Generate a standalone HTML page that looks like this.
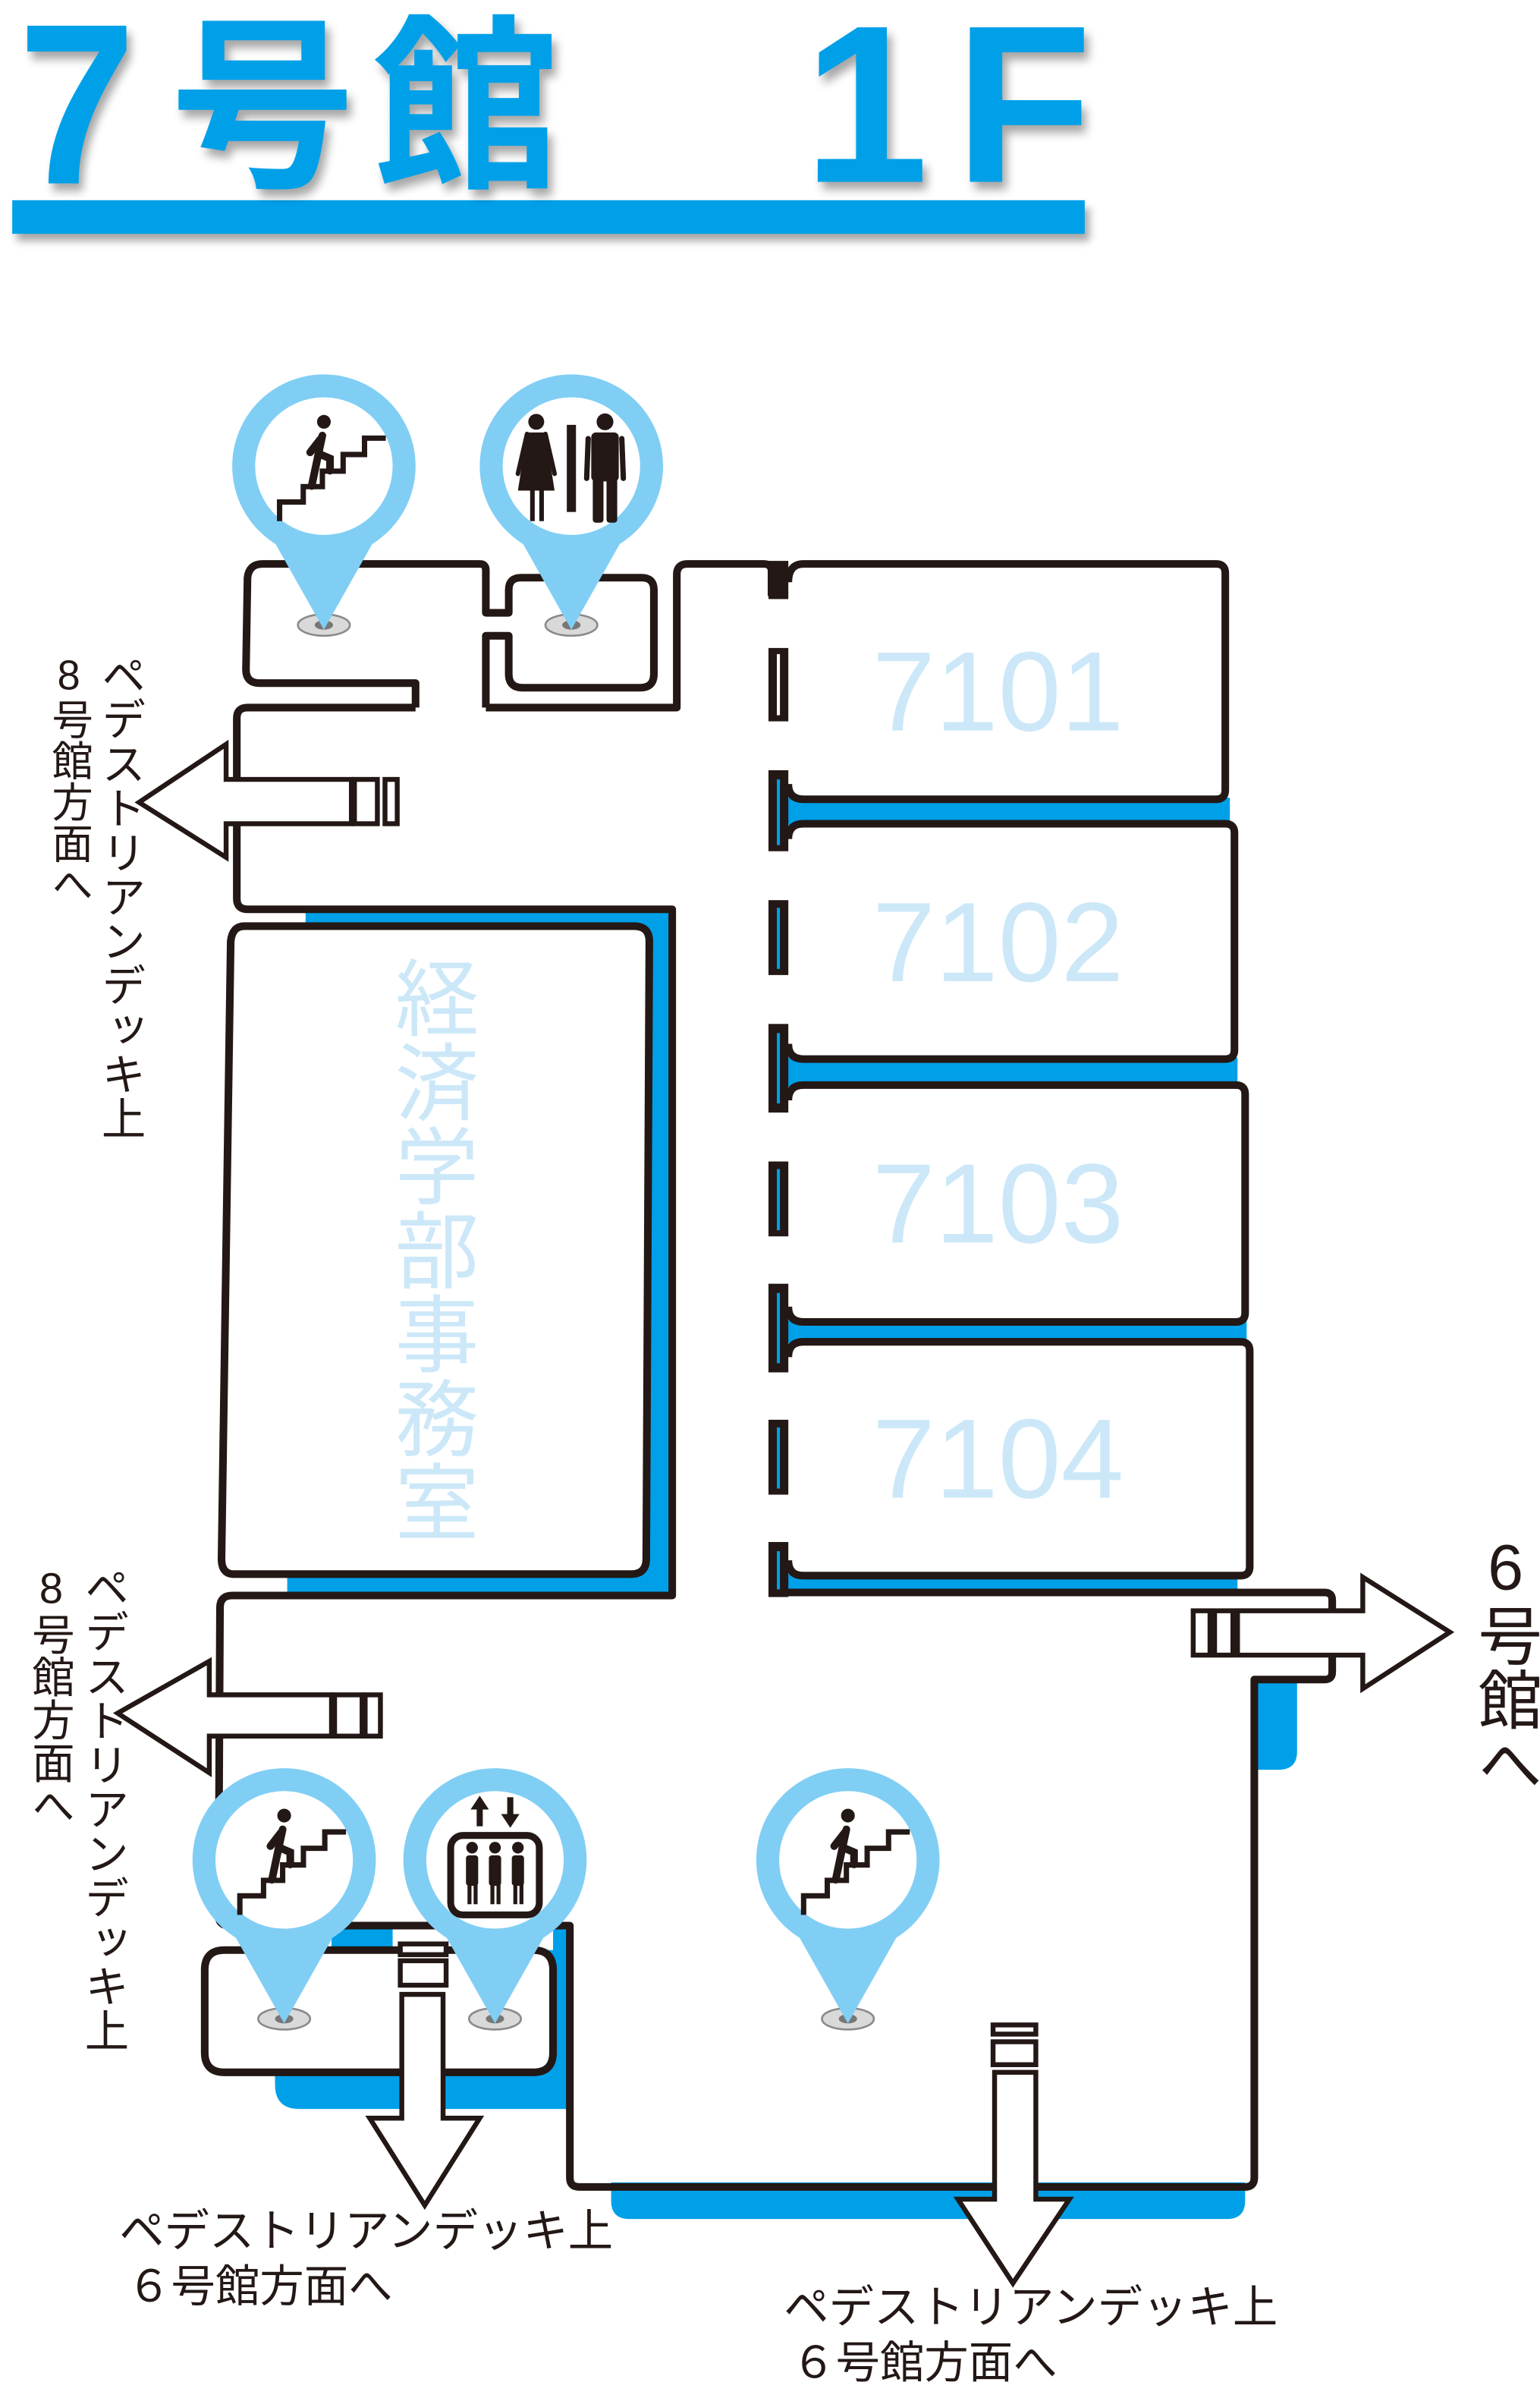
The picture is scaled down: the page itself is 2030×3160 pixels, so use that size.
<!DOCTYPE html>
<html><head><meta charset="utf-8">
<style>
html,body{margin:0;padding:0;background:#fff;}
body{width:2030px;height:3159px;overflow:hidden;position:relative;}
#c{position:absolute;left:0;top:0;width:1008px;height:1569px;transform:scale(2.01389);transform-origin:0 0;}
.t{position:absolute;font-family:"Liberation Sans","Noto Sans CJK JP",sans-serif;color:#231815;white-space:nowrap;line-height:1;}
.v{writing-mode:vertical-rl;text-orientation:upright;}
.title{position:absolute;font-family:"Liberation Sans","Noto Sans CJK JP",sans-serif;font-weight:bold;color:#00a0e9;line-height:1;white-space:nowrap;filter:drop-shadow(3px 5px 3px rgba(0,0,0,0.35));}
</style></head><body>
<div id="c">
<div style="position:absolute;left:8px;top:131px;width:702px;height:22px;background:#00a0e9;box-shadow:3px 5px 5px rgba(0,0,0,0.35);"></div>
<div class="title" style="left:12px;top:-7px;font-size:150px;transform:scaleX(0.92);transform-origin:0 0;">7</div>
<div class="title" style="left:111px;top:10px;font-size:122px;">号</div>
<div class="title" style="left:244px;top:10px;font-size:122px;">館</div>
<div class="title" style="left:526px;top:-4px;font-size:147px;">1</div>
<div class="title" style="left:625px;top:-4px;font-size:147px;">F</div>

<svg width="1008" height="1569" viewBox="0 0 1008 1569" style="position:absolute;left:0;top:0;">
<g fill="#00a0e9">
  <path d="M200,595 L440,595 L440,1046 L188,1046 L188,1030 L200,1030 Z"/>
  <rect x="510" y="522" width="295" height="18"/>
  <rect x="510" y="692" width="300" height="19"/>
  <rect x="510" y="864" width="306" height="15"/>
  <rect x="507" y="1030" width="303" height="14"/>
  <path d="M821,1099 L849,1099 L849,1146 Q849,1158 837,1158 L821,1158 Z"/>
  <path d="M400,1428 L815,1428 L815,1440 Q815,1452 803,1452 L412,1452 Q400,1452 400,1440 Z"/>
  <path d="M180,1276 L373,1276 L373,1380 L196,1380 Q180,1380 180,1364 Z"/>
  <rect x="217" y="1262" width="40" height="16"/>
  <rect x="362" y="1259" width="11" height="20"/>
</g>
<g fill="none" stroke="#231815" stroke-width="5" stroke-linejoin="round">
  <path fill="#fff" d="M272,463 L272,447 L170,447 Q161,447 161,438 L162,378 Q163,369 172,369 L314,369 Q318,369 318,373 L318,401 L333,401 L333,386 Q333,378 341,378 L420,378 Q428,378 428,386 L428,441 Q428,450 419,450 L342,450 Q333,450 333,441 L333,416 L318,416 L318,463"/>
  <path d="M318,463 L443,463 L443,376 Q443,369 450,369 L500,369 Q505,369 505,374 L505,390"/>
  <path d="M272,463 L162,463 Q155,463 155,470 L155,588 Q155,595 162,595 L440,595 L440,1044 L152,1044 Q144,1044 144,1052 L143,1253 Q143,1260 150,1260 L373,1260 L373,1425 Q373,1431 379,1431 L815,1431 Q821,1431 821,1425 L821,1099 L867,1099 Q872,1099 872,1094 L872,1047 Q872,1042 867,1042 L510,1042"/>
  <path fill="#fff" d="M160,606 L415,606 Q425,606 425,616 L423,1020 Q423,1030 413,1030 L153,1030 Q145,1030 145,1020 L151,616 Q152,606 160,606 Z"/>
  <path fill="#fff" d="M516,381 Q516,369 526,369 L796,369 Q802,369 802,375 L802,517 Q802,523 796,523 L526,523 Q516,523 516,513"/>
  <path fill="#fff" d="M516,549 Q516,539 526,539 L802,539 Q808,539 808,545 L808,687 Q808,693 802,693 L526,693 Q516,693 516,683"/>
  <path fill="#fff" d="M516,720 Q516,710 526,710 L809,710 Q815,710 815,716 L815,859 Q815,865 809,865 L526,865 Q516,865 516,855"/>
  <path fill="#fff" d="M516,888 Q516,878 526,878 L812,878 Q818,878 818,884 L818,1025 Q818,1031 812,1031 L526,1031 Q516,1031 516,1021"/>
  <path fill="#fff" d="M147,1276 L349,1276 Q362,1276 362,1289 L362,1343 Q362,1356 349,1356 L147,1356 Q134,1356 134,1343 L134,1289 Q134,1276 147,1276 Z"/>
</g>
<g fill="#231815">
  <rect x="503" y="367" width="13" height="25"/>
  <rect x="503" y="424" width="13" height="48"/>
  <rect x="503" y="504" width="13" height="53"/>
  <rect x="503" y="589" width="13" height="49"/>
  <rect x="503" y="670" width="13" height="58"/>
  <rect x="503" y="760" width="13" height="49"/>
  <rect x="503" y="840" width="13" height="58"/>
  <rect x="503" y="929" width="13" height="49"/>
  <rect x="503" y="1009" width="13" height="36"/>
</g>
<g>
  <rect x="508.5" y="428" width="2" height="40" fill="#fff"/>
  <rect x="508.5" y="510" width="2" height="43" fill="#00a0e9"/>
  <rect x="508.5" y="594" width="2" height="40" fill="#00a0e9"/>
  <rect x="508.5" y="676" width="2" height="46" fill="#00a0e9"/>
  <rect x="508.5" y="765" width="2" height="40" fill="#00a0e9"/>
  <rect x="508.5" y="846" width="2" height="46" fill="#00a0e9"/>
  <rect x="508.5" y="934" width="2" height="40" fill="#00a0e9"/>
  <rect x="508.5" y="1015" width="2" height="25" fill="#00a0e9"/>
</g>
<g fill="#cce8f8" font-family="Liberation Sans, sans-serif" font-size="74">
  <text x="571" y="478">7101</text>
  <text x="571" y="642">7102</text>
  <text x="571" y="813">7103</text>
  <text x="571" y="980">7104</text>
</g>
<g fill="#fff" stroke="#231815" stroke-width="3.2" stroke-linejoin="miter">
  <path d="M230,510 L148,510 L148,487 L91,525 L148,561 L148,539 L230,539 Z"/>
  <rect x="232" y="510" width="15" height="29"/><rect x="252" y="510" width="8" height="29"/>
  <path d="M217,1109 L137,1109 L137,1087 L77,1121 L137,1160 L137,1136 L217,1136 Z"/>
  <rect x="219" y="1109" width="18" height="27"/><rect x="239" y="1109" width="10" height="27"/>
  <path d="M810,1054 L892,1054 L892,1032 L949,1068 L892,1105 L892,1083 L810,1083 Z"/>
  <rect x="781" y="1054" width="11" height="29"/><rect x="795" y="1054" width="12" height="29"/>
  <path d="M263,1305 L290,1305 L290,1386 L314,1386 L278,1443 L242,1386 L263,1386 Z"/>
  <rect x="262" y="1272" width="30" height="7"/><rect x="262" y="1283" width="30" height="16"/>
  <path d="M651,1356 L678,1356 L678,1439 L700,1439 L663,1494 L627,1439 L651,1439 Z"/>
  <rect x="650" y="1325" width="28" height="6"/><rect x="650" y="1336" width="28" height="15"/>
</g>
<defs>
  <g id="pin">
    <ellipse cx="0" cy="104" rx="17" ry="7" fill="#d9d9d9" stroke="#8a8a8a" stroke-width="1.3"/>
    <ellipse cx="0" cy="104" rx="6" ry="3" fill="#777"/>
    <path d="M-35,45 L35,45 L0,107 Z" fill="#80cef4"/>
    <circle cx="0" cy="0" r="60" fill="#80cef4"/>
    <circle cx="0" cy="0" r="45" fill="#fff"/>
  </g>
  <g id="stairs">
    <path d="M-29,36 V23.5 H-13.5 V13.4 H-1 V3.3 H12.6 V-7.6 H26.6 V-18.3 H40.5" fill="none" stroke="#231815" stroke-width="3.5"/>
    <circle cx="0" cy="-29" r="4.5" fill="#231815"/>
    <g stroke="#231815" stroke-width="5" stroke-linecap="round" fill="none">
      <path d="M-1,-20 L-4,-6 L-8,13"/>
      <path d="M-3,-8 L4,-5 L4,3"/>
      <path d="M-2,-18 L-9,-9"/>
    </g>
  </g>
</defs>
<use href="#pin" x="212" y="305"/>
<use href="#pin" x="374" y="305"/>
<use href="#pin" x="186" y="1217"/>
<use href="#pin" x="324" y="1217"/>
<use href="#pin" x="555" y="1217"/>
<use href="#stairs" x="212" y="305"/>
<use href="#stairs" x="186" y="1217"/>
<use href="#stairs" x="555" y="1217"/>
<g transform="translate(374,305)" fill="#231815">
  <circle cx="-23" cy="-29" r="5.2"/>
  <path d="M-29,-22 L-17,-22 L-11,16 L-35,16 Z"/>
  <path d="M-29,-21 L-35,5 M-17,-21 L-11,5" stroke="#231815" stroke-width="3" stroke-linecap="round"/>
  <rect x="-27" y="15" width="3" height="21"/><rect x="-21" y="15" width="3" height="21"/>
  <rect x="-3" y="-27" width="6" height="57"/>
  <circle cx="22" cy="-29" r="5.5"/>
  <rect x="13" y="-22" width="18" height="32" rx="3"/>
  <path d="M11,-18 L10,8 M33,-18 L34,8" stroke="#231815" stroke-width="3.5" stroke-linecap="round"/>
  <rect x="14" y="8" width="7" height="29" rx="2"/><rect x="23" y="8" width="7" height="29" rx="2"/>
</g>
<g transform="translate(324,1217)" fill="#231815">
  <rect x="-12" y="-35" width="4" height="13"/><path d="M-16,-33 L-4,-33 L-10,-42 Z"/>
  <rect x="8" y="-41" width="4" height="13"/><path d="M4,-30 L16,-30 L10,-21 Z"/>
  <rect x="-29" y="-16" width="58" height="52" rx="8" fill="#fff" stroke="#231815" stroke-width="4.5"/>
  <circle cx="-15" cy="-8" r="3.8"/><circle cx="0" cy="-8" r="3.8"/><circle cx="15" cy="-8" r="3.8"/>
  <rect x="-19" y="-3" width="8" height="20" rx="2"/><rect x="-4" y="-3" width="8" height="20" rx="2"/><rect x="11" y="-3" width="8" height="20" rx="2"/>
  <rect x="-18" y="16" width="2.6" height="13"/><rect x="-14" y="16" width="2.6" height="13"/>
  <rect x="-3" y="16" width="2.6" height="13"/><rect x="1" y="16" width="2.6" height="13"/>
  <rect x="12" y="16" width="2.6" height="13"/><rect x="16" y="16" width="2.6" height="13"/>
</g>
</svg>

<div class="t v" style="left:253px;top:625px;font-size:55px;color:#cce8f8;">経済学部事務室</div>
<div class="t v" style="left:63px;top:427px;font-size:29px;">ペデストリアンデッキ上</div>
<div class="t v" style="left:31px;top:427px;font-size:27px;">8号館方面へ</div>
<div class="t v" style="left:52px;top:1024px;font-size:29px;">ペデストリアンデッキ上</div>
<div class="t v" style="left:19px;top:1024px;font-size:28px;">8号館方面へ</div>
<div class="t v" style="left:964px;top:1002px;font-size:42px;">6号館へ</div>
<div class="t" style="left:78px;top:1446px;font-size:29.5px;">ペデストリアンデッキ上</div>
<div class="t" style="left:83px;top:1483px;font-size:29px;">６号館方面へ</div>
<div class="t" style="left:513px;top:1496px;font-size:29.5px;">ペデストリアンデッキ上</div>
<div class="t" style="left:518px;top:1533px;font-size:29px;">６号館方面へ</div>
</div>
</body></html>
